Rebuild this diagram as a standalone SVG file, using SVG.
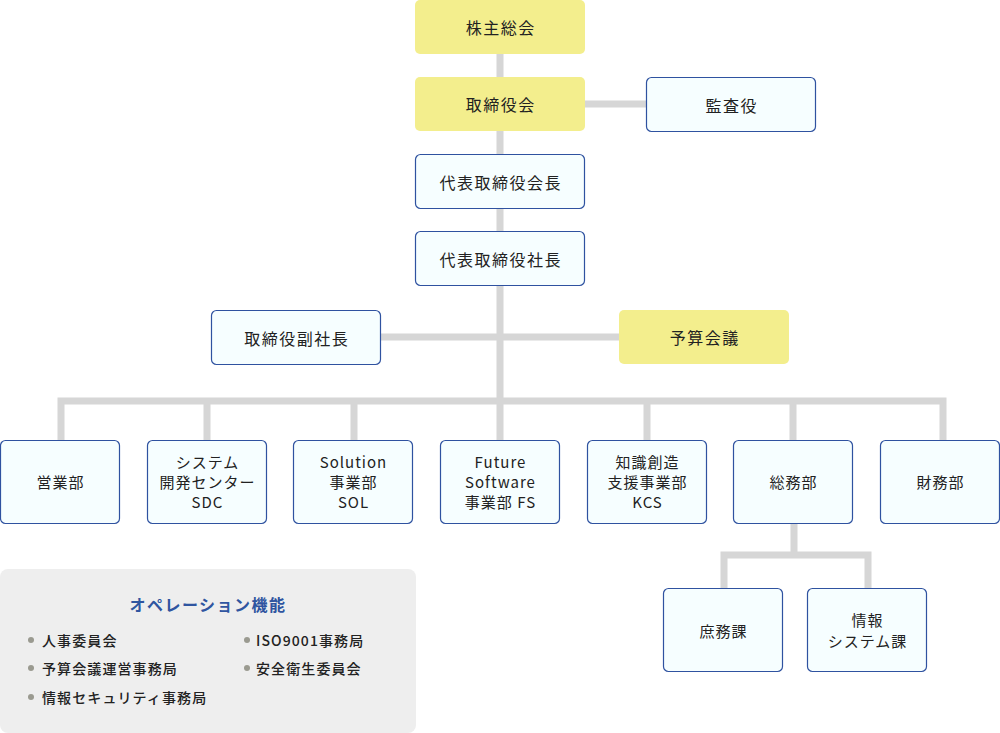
<svg xmlns="http://www.w3.org/2000/svg" width="1000" height="733" viewBox="0 0 1000 733">
<style>
.y{fill:#f3ee8d;stroke:none}
.b{fill:#f6feff;stroke:#2f52a0;stroke-width:1.2}
.t{font-family:"Noto Sans CJK JP","Noto Sans",sans-serif;font-size:16px;fill:#222;text-anchor:middle;letter-spacing:1.5px;dominant-baseline:central}
.s{font-family:"Noto Sans CJK JP","Noto Sans",sans-serif;font-size:15px;fill:#222;text-anchor:middle;letter-spacing:1px}
.c{fill:none;stroke:#d6d6d6;stroke-width:7;stroke-linejoin:miter}
.l{font-family:"Noto Sans CJK JP","Noto Sans",sans-serif;font-size:14px;font-weight:500;fill:#222;letter-spacing:1.1px;dominant-baseline:central}
.d{fill:#9a9a90}
</style>
<g id="connectors">
<path class="c" d="M500,54 V401"/>
<path class="c" d="M585,104 H646"/>
<path class="c" d="M380,337 H619"/>
<path class="c" d="M61,440 V401 H943 V440 M207,401 V440 M354,401 V440 M500,401 V440 M647,401 V440 M793,401 V440"/>
<path class="c" d="M794,523 V555 M724,588 V555 H868 V588"/>
</g>
<g id="n1"><rect class="y" x="415" y="0" width="170" height="54" rx="5"/><text class="t" x="500.8" y="27">株主総会</text></g>
<g id="n2"><rect class="y" x="415" y="77" width="170" height="54" rx="5"/><text class="t" x="500.8" y="104">取締役会</text></g>
<g id="n3"><rect class="b" x="646.5" y="77.5" width="169" height="54" rx="5"/><text class="t" x="731.8" y="104.5">監査役</text></g>
<g id="n4"><rect class="b" x="415.5" y="154.5" width="169" height="54" rx="5"/><text class="t" x="500.8" y="181.5">代表取締役会長</text></g>
<g id="n5"><rect class="b" x="415.5" y="231.5" width="169" height="54" rx="5"/><text class="t" x="500.8" y="258.5">代表取締役社長</text></g>
<g id="n6"><rect class="b" x="211.5" y="310.5" width="169" height="54" rx="5"/><text class="t" x="296.8" y="337.5">取締役副社長</text></g>
<g id="n7"><rect class="y" x="619" y="310" width="170" height="54" rx="5"/><text class="t" x="704.8" y="337">予算会議</text></g>
<g id="d1"><rect class="b" x="0.5" y="440.5" width="119" height="83" rx="5"/><text class="s" x="60.5" y="488">営業部</text></g>
<g id="d2"><rect class="b" x="147.5" y="440.5" width="119" height="83" rx="5"/><text class="s" x="207.5" y="468">システム</text><text class="s" x="207.5" y="488">開発センター</text><text class="s" x="207.5" y="508">SDC</text></g>
<g id="d3"><rect class="b" x="293.5" y="440.5" width="119" height="83" rx="5"/><text class="s" x="353.5" y="468">Solution</text><text class="s" x="353.5" y="488">事業部</text><text class="s" x="353.5" y="508">SOL</text></g>
<g id="d4"><rect class="b" x="440.5" y="440.5" width="119" height="83" rx="5"/><text class="s" x="500.5" y="468">Future</text><text class="s" x="500.5" y="488">Software</text><text class="s" x="500.5" y="508">事業部 FS</text></g>
<g id="d5"><rect class="b" x="587.5" y="440.5" width="119" height="83" rx="5"/><text class="s" x="647.5" y="468">知識創造</text><text class="s" x="647.5" y="488">支援事業部</text><text class="s" x="647.5" y="508">KCS</text></g>
<g id="d6"><rect class="b" x="733.5" y="440.5" width="119" height="83" rx="5"/><text class="s" x="793.5" y="488">総務部</text></g>
<g id="d7"><rect class="b" x="880.5" y="440.5" width="119" height="83" rx="5"/><text class="s" x="940.5" y="488">財務部</text></g>
<g id="k1"><rect class="b" x="663.5" y="588.5" width="119" height="83" rx="5"/><text class="s" x="723.5" y="637">庶務課</text></g>
<g id="k2"><rect class="b" x="807.5" y="588.5" width="119" height="83" rx="5"/><text class="s" x="867.5" y="626">情報</text><text class="s" x="867.5" y="647">システム課</text></g>
<g id="ops">
<rect x="0" y="569" width="416" height="164" rx="8" fill="#eeeeee"/>
<text x="208" y="603.5" font-family="'Noto Sans CJK JP','Noto Sans',sans-serif" font-size="16" font-weight="bold" fill="#2f55a0" text-anchor="middle" letter-spacing="1.5" dominant-baseline="central">オペレーション機能</text>
<circle class="d" cx="31" cy="640" r="3"/><text class="l" x="42" y="640">人事委員会</text>
<circle class="d" cx="31" cy="668" r="3"/><text class="l" x="42" y="668">予算会議運営事務局</text>
<circle class="d" cx="31" cy="697" r="3"/><text class="l" x="42" y="697">情報セキュリティ事務局</text>
<circle class="d" cx="247" cy="640" r="3"/><text class="l" x="256" y="640">ISO9001事務局</text>
<circle class="d" cx="247" cy="668" r="3"/><text class="l" x="256" y="668">安全衛生委員会</text>
</g>
</svg>
